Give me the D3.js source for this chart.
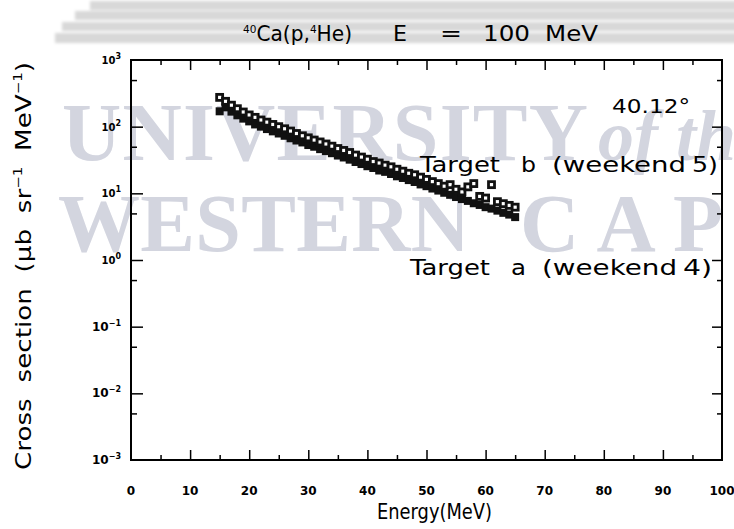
<!DOCTYPE html>
<html>
<head>
<meta charset="utf-8">
<script src="https://cdn.jsdelivr.net/npm/d3@7/dist/d3.min.js"></script>
<style>
  body { margin: 0; background: #fff; }
  svg { display: block; }
  .sans { font-family: "DejaVu Sans", sans-serif; }
  .serif { font-family: "Liberation Serif", "DejaVu Serif", serif; }
</style>
</head>
<body>
<svg class="grafico" width="734" height="529"></svg>
<script>
// energias (MeV) y secciones eficaces
const energia = [15,16,17,18,19,20,21,22,23,24,25,26,27,28,29,30,31,32,33,34,35,36,37,38,39,40,
  41,42,43,44,45,46,47,48,49,50,51,52,53,54,55,56,57,58,59,60,61,62,63,64,65]
const targetA = [170,195,168,148,132,120,108,100,92,85,79,73,67,62,58,53,50,46,43,40,37,34.5,32,29.5,27.5,25.5,
  24,22,21,19.5,18,17,15.8,14.8,13.6,12.8,11.8,11,10.2,9.5,8.8,8.2,7.7,7.1,6.7,6.2,5.9,5.5,5.1,4.8,4.4]
const targetB = [275,240,210,186,166,150,138,126,117,108,100,93,86,79,73,68,63,59,55,51,47,44,41,37.5,35,32.5,
  30,28.5,26.5,25,23,21.5,20,19,17.5,16.2,15,14,12.8,13.5,11.5,10.5,12.5,14,9,8.5,13.5,7.5,7,6.6,6.2]
const xTicks = [0,10,20,30,40,50,60,70,80,90,100]
const yExp = [-3,-2,-1,0,1,2,3]

const svg = d3.select('.grafico')

// marca de agua (banner + texto)
const defs = svg.append('defs')
defs.append('filter').attr('id','blur').append('feGaussianBlur').attr('stdDeviation', 1.6)
defs.append('filter').attr('id','blur2').append('feGaussianBlur').attr('stdDeviation', 0.7)

const banner = svg.append('g').attr('filter','url(#blur)')
const barras = [[90,1,9],[75,11,9],[62,22,9],[55,33,10]]
banner.selectAll('rect').data(barras).join('rect')
  .attr('x', d => d[0]).attr('y', d => d[1]).attr('width', 734).attr('height', d => d[2])
  .attr('fill', '#d8d8d8')

const marca = svg.append('g').attr('fill','#d3d5df').attr('filter','url(#blur2)')
const wm = [
  ['UNIVERSITY', 62, 160, 526],
  ['WESTERN', 58, 251, 412],
  ['CAPE', 520, 251, 275]
]
marca.selectAll('text').data(wm).join('text').attr('class','serif')
  .attr('x', d => d[1]).attr('y', d => d[2]).attr('font-size', 82).attr('font-weight','bold')
  .attr('textLength', d => d[3]).attr('lengthAdjust','spacing').text(d => d[0])
marca.append('text').attr('class','serif').attr('x',598).attr('y',160).attr('font-size',72)
  .attr('font-style','italic').attr('font-weight','bold').text('of the')

const x = d3.scaleLinear().domain([0,100]).range([131,722])
const y = d3.scaleLog().domain([1e-3,1e3]).range([460,60])

// marco
svg.append('rect').attr('x',131).attr('y',60).attr('width',591).attr('height',400)
  .attr('fill','none').attr('stroke','#000').attr('stroke-width',2)

const mayores = d3.range(10,100,10)
const menores = d3.range(5,100,10)
const yMay = d3.range(-2,3).map(e => Math.pow(10,e))
const yMen = d3.range(-3,3).map(e => 5*Math.pow(10,e))

function ejes(g, axis, vals, size){
  g.call(axis.tickValues(vals).tickSize(size).tickFormat(''))
  g.select('.domain').remove()
  g.selectAll('line').attr('stroke','#000').attr('stroke-width',1.5)
}
svg.append('g').attr('transform','translate(0,460)').call(g => ejes(g, d3.axisTop(x), mayores, 10))
svg.append('g').attr('transform','translate(0,460)').call(g => ejes(g, d3.axisTop(x), menores, 5))
svg.append('g').attr('transform','translate(0,60)').call(g => ejes(g, d3.axisBottom(x), mayores, 10))
svg.append('g').attr('transform','translate(0,60)').call(g => ejes(g, d3.axisBottom(x), menores, 5))
svg.append('g').attr('transform','translate(131,0)').call(g => ejes(g, d3.axisRight(y), yMay, 12))
svg.append('g').attr('transform','translate(131,0)').call(g => ejes(g, d3.axisRight(y), yMen, 6))
svg.append('g').attr('transform','translate(722,0)').call(g => ejes(g, d3.axisLeft(y), yMay, 10))
svg.append('g').attr('transform','translate(722,0)').call(g => ejes(g, d3.axisLeft(y), yMen, 5))

// etiquetas de ticks
svg.append('g').selectAll('text').data(xTicks).join('text').attr('class','sans')
  .attr('x', d => x(d)).attr('y', 495).attr('text-anchor','middle')
  .attr('font-size',12).attr('font-weight','bold').text(d => d)

const yl = svg.append('g').selectAll('text').data(yExp).join('text').attr('class','sans')
  .attr('x', 121).attr('y', d => y(Math.pow(10,d)) + 4).attr('text-anchor','end')
  .attr('font-size', d => d < 0 ? 12 : 10).attr('font-weight','bold')
yl.append('tspan').text('10')
yl.append('tspan').attr('dy',-5).attr('font-size', 8).text(d => d < 0 ? '\u2212' + (-d) : d)

// datos
const sq = 8
svg.append('g').selectAll('rect').data(energia).join('rect')
  .attr('x', d => x(d) - sq/2).attr('y', (d,i) => y(targetA[i]) - sq/2)
  .attr('width', sq).attr('height', sq).attr('fill','#111')
svg.append('g').selectAll('rect').data(energia).join('rect')
  .attr('x', d => x(d) - sq/2 + 1).attr('y', (d,i) => y(targetB[i]) - sq/2 + 1)
  .attr('width', sq - 2).attr('height', sq - 2).attr('fill','#fff')
  .attr('stroke','#111').attr('stroke-width',2.8)

// textos por palabras (fuente ancha tipo HIGZ)
function palabras(lista, yb, fs){
  lista.forEach(([t, x0, x1]) => {
    svg.append('text').attr('class','sans').attr('x', x0).attr('y', yb).attr('font-size', fs)
      .attr('textLength', x1 - x0).attr('lengthAdjust','spacingAndGlyphs').text(t)
  })
}
const titulo = svg.append('text').attr('class','sans').attr('x',243).attr('y',41).attr('font-size',21)
  .attr('textLength',109).attr('lengthAdjust','spacingAndGlyphs')
titulo.append('tspan').attr('font-size',11).attr('dy',-8).text('40')
titulo.append('tspan').attr('dy',8).text('Ca(p,')
titulo.append('tspan').attr('font-size',11).attr('dy',-8).text('4')
titulo.append('tspan').attr('dy',8).text('He)')
palabras([['E',393,407],['=',440,462],['100',483,530],['MeV',545,598]], 41, 21)

palabras([['40.12°',612,690]], 113, 20)
palabras([['Target',420,500],['b',521,536],['(weekend',552,686],['5)',692,718]], 172, 21)
palabras([['Target',410,490],['a',511,526],['(weekend',542,677],['4)',683,712]], 275, 21)
palabras([['Energy(MeV)',377,492]], 519, 21)

const ytit = svg.append('text').attr('class','sans').attr('transform','translate(31,470) rotate(-90)')
  .attr('font-size',21).attr('textLength',408).attr('lengthAdjust','spacingAndGlyphs')
  .style('white-space','pre').style('word-spacing','6px')
ytit.append('tspan').text('Cross section (\u03bcb sr')
ytit.append('tspan').attr('font-size',12).attr('dy',-9).text('\u22121')
ytit.append('tspan').attr('dy',9).text(' MeV')
ytit.append('tspan').attr('font-size',12).attr('dy',-9).text('\u22121')
ytit.append('tspan').attr('dy',9).text(')')
</script>
</body>
</html>
